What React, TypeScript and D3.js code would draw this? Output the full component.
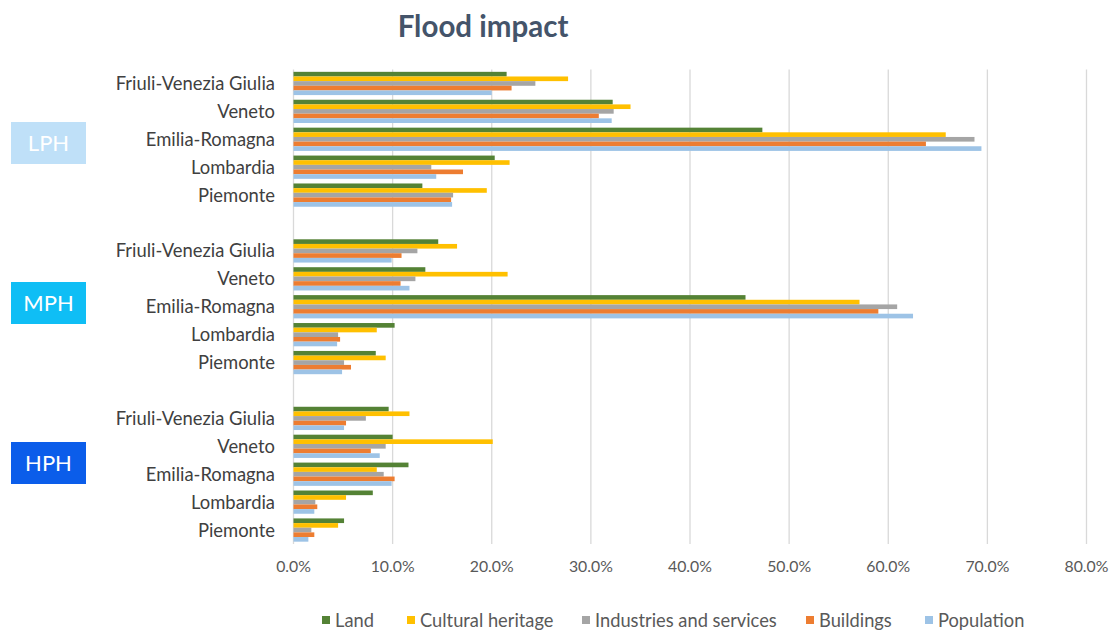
import React from "react";
import * as d3 from "d3";

const categories = [
  "Friuli-Venezia Giulia",
  "Veneto",
  "Emilia-Romagna",
  "Lombardia",
  "Piemonte",
];
const groups = ["LPH", "MPH", "HPH"];
const seriesNames = ["Land", "Cultural heritage", "Industries and services", "Buildings", "Population"];
const seriesColors = ["#548235", "#FFC000", "#A5A5A5", "#ED7D31", "#9DC3E6"];
const groupColors = ["#BFE0F8", "#0FBEF5", "#0B5DEA"];

// values per group, per category (top to bottom), per series (%)
const lphLand = [21.5, 32.2, 47.3, 20.3, 13.0];
const lphCultural = [27.7, 34.0, 65.8, 21.8, 19.5];
const lphIndustries = [24.4, 32.3, 68.7, 13.9, 16.1];
const lphBuildings = [22.0, 30.8, 63.8, 17.1, 15.9];
const lphPopulation = [20.0, 32.1, 69.4, 14.4, 16.0];

const mphLand = [14.6, 13.3, 45.6, 10.2, 8.3];
const mphCultural = [16.5, 21.6, 57.1, 8.4, 9.3];
const mphIndustries = [12.5, 12.3, 60.9, 4.5, 5.1];
const mphBuildings = [10.9, 10.8, 59.0, 4.7, 5.8];
const mphPopulation = [9.9, 11.7, 62.5, 4.4, 4.9];

const hphLand = [9.6, 10.0, 11.6, 8.0, 5.1];
const hphCultural = [11.7, 20.1, 8.4, 5.3, 4.5];
const hphIndustries = [7.3, 9.3, 9.1, 2.2, 1.8];
const hphBuildings = [5.3, 7.8, 10.2, 2.4, 2.1];
const hphPopulation = [5.1, 8.7, 9.9, 2.1, 1.5];

const xTicks = [0, 10, 20, 30, 40, 50, 60, 70, 80];

const groupData = [
  [lphLand, lphCultural, lphIndustries, lphBuildings, lphPopulation],
  [mphLand, mphCultural, mphIndustries, mphBuildings, mphPopulation],
  [hphLand, hphCultural, hphIndustries, hphBuildings, hphPopulation],
];

// layout constants
const W = 1111;
const H = 630;
const plotLeft = 293.5;
const plotRight = 1086.5;
const plotTop = 69.5;
const plotBottom = 544;
const FONT = "Lato, 'Open Sans', sans-serif";
const boxRects = [
  { x: 11, y: 122, w: 75, h: 42 },
  { x: 11, y: 282, w: 75, h: 42 },
  { x: 11, y: 442, w: 75, h: 42 },
];
const legendX = [322, 407, 582, 806, 925];

export default function App() {
  // slot keys: 5 categories, blank, 5, blank, 5
  const slots: string[] = [];
  groups.forEach((g, gi) => {
    categories.forEach((c) => slots.push(g + "|" + c));
    if (gi < groups.length - 1) slots.push("blank" + gi);
  });

  const x = d3.scaleLinear().domain([0, 80]).range([plotLeft, plotRight]);
  const y = d3.scaleBand<string>().domain(slots).range([plotTop, plotBottom]).padding(0);
  const inner = d3
    .scaleBand<string>()
    .domain(seriesNames)
    .range([0, y.bandwidth()])
    .paddingOuter(0.5)
    .paddingInner(0);

  const bars: React.ReactNode[] = [];
  groups.forEach((g, gi) => {
    categories.forEach((c, ci) => {
      const y0 = y(g + "|" + c)!;
      seriesNames.forEach((s, si) => {
        const v = groupData[gi][si][ci];
        bars.push(
          <rect
            key={g + c + s}
            x={x(0)}
            y={y0 + inner(s)!}
            width={x(v) - x(0)}
            height={inner.bandwidth()}
            fill={seriesColors[si]}
          />
        );
      });
    });
  });

  return (
    <svg
      width={W}
      height={H}
      style={{ position: "absolute", left: 0, top: 0, background: "#fff" }}
    >
      <rect x={0} y={0} width={W} height={H} fill="#fff" />
      <text
        x={483}
        y={37}
        textAnchor="middle"
        fontFamily={FONT}
        fontWeight={700}
        fontSize={29.5}
        fill="#44546A"
      >
        Flood impact
      </text>

      {xTicks.map((t) => (
        <g key={t}>
          <line x1={x(t)} x2={x(t)} y1={plotTop} y2={plotBottom} stroke="#D9D9D9" strokeWidth={1.3} />
          <text
            x={x(t)}
            y={572}
            textAnchor="middle"
            fontFamily={FONT}
            fontSize={15.8}
            fill="#595959"
          >
            {t.toFixed(1) + "%"}
          </text>
        </g>
      ))}

      {bars}

      {groups.map((g) =>
        categories.map((c) => (
          <text
            key={g + c}
            x={275}
            y={y(g + "|" + c)! + y.bandwidth() / 2 + 6.5}
            textAnchor="end"
            fontFamily={FONT}
            fontSize={18.4}
            fill="#404040"
          >
            {c}
          </text>
        ))
      )}

      {groups.map((g, gi) => (
        <g key={g}>
          <rect
            x={boxRects[gi].x}
            y={boxRects[gi].y}
            width={boxRects[gi].w}
            height={boxRects[gi].h}
            fill={groupColors[gi]}
          />
          <text
            x={boxRects[gi].x + boxRects[gi].w / 2}
            y={boxRects[gi].y + boxRects[gi].h / 2 + 8}
            textAnchor="middle"
            fontFamily={FONT}
            fontSize={22}
            fill="#fff"
          >
            {g}
          </text>
        </g>
      ))}

      {seriesNames.map((s, si) => (
        <g key={s}>
          <rect x={legendX[si]} y={616} width={8} height={8} fill={seriesColors[si]} />
          <text
            x={legendX[si] + 13}
            y={627}
            fontFamily={FONT}
            fontSize={18.3}
            fill="#595959"
          >
            {s}
          </text>
        </g>
      ))}
    </svg>
  );
}
